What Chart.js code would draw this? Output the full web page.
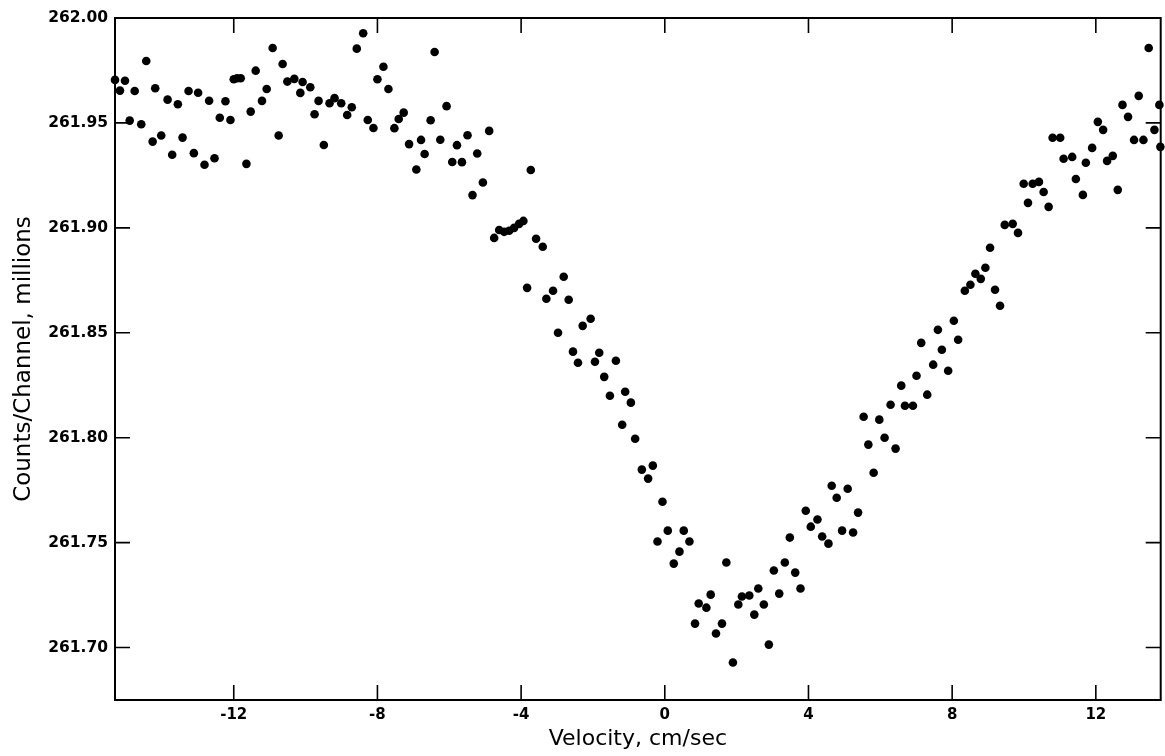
<!DOCTYPE html>
<html><head><meta charset="utf-8">
<script src="https://cdn.jsdelivr.net/npm/chart.js@4.4.0/dist/chart.umd.min.js"></script>
<style>html,body{margin:0;padding:0;background:#fff;}#wrap{width:1165px;height:756px;}</style>
</head><body><div id="wrap"><canvas id="c" width="1165" height="756"></canvas></div>
<script>
const velocity = [
-15.306,-15.167,-15.028,-14.897,-14.758,-14.575,-14.436,-14.258,-14.186,-14.019,
-13.842,-13.714,-13.556,-13.425,-13.258,-13.111,-12.992,-12.814,-12.686,-12.536,
-12.389,-12.231,-12.092,-12.000,-11.908,-11.806,-11.647,-11.528,-11.389,-11.214,
-11.083,-10.917,-10.750,-10.639,-10.508,-10.314,-10.147,-10.083,-9.869,-9.750,-9.639,
-9.492,-9.333,-9.194,-9.008,-8.842,-8.714,-8.575,-8.397,-8.269,-8.111,
-8.000,-7.833,-7.694,-7.528,-7.408,-7.269,-7.119,-6.917,-6.786,-6.686,
-6.519,-6.408,-6.250,-6.075,-5.917,-5.786,-5.647,-5.492,-5.353,-5.222,-5.064,-4.889,
-4.750,-4.611,-4.472,-4.333,-4.194,-4.056,-3.936,-3.833,-3.731,-3.583,
-3.397,-3.297,-3.111,-2.972,-2.814,-2.675,-2.556,-2.417,-2.286,-2.064,
-1.944,-1.825,-1.686,-1.528,-1.361,-1.186,-1.103,-0.944,-0.825,-0.639,
-0.464,-0.333,-0.203,-0.064,0.083,0.250,0.408,0.528,0.686,0.842,
0.944,1.158,1.278,1.425,1.592,1.714,1.897,2.047,2.147,2.353,
2.492,2.603,2.758,2.897,3.036,3.186,3.342,3.481,3.631,3.778,
3.925,4.064,4.250,4.381,4.556,4.647,4.786,4.936,5.092,5.242,
5.381,5.536,5.667,5.814,5.972,6.119,6.286,6.425,6.583,6.686,
6.908,7.008,7.139,7.306,7.472,7.603,7.714,7.889,8.047,8.167,
8.353,8.508,8.647,8.797,8.925,9.056,9.194,9.333,9.464,9.686,
9.833,9.992,10.111,10.242,10.417,10.547,10.686,10.797,11.008,11.103,
11.342,11.444,11.639,11.722,11.897,12.056,12.203,12.314,12.472,12.611,
12.742,12.897,13.064,13.194,13.325,13.472,13.631,13.769,13.797
];
const counts = [
261.9705,261.9654,261.9701,261.9511,261.9652,261.9494,261.9795,261.9411,261.9665,261.9440,
261.9611,261.9348,261.9589,261.9430,261.9652,261.9356,261.9644,261.9301,261.9606,261.9332,
261.9525,261.9603,261.9514,261.9708,261.9713,261.9713,261.9305,261.9554,261.9749,261.9605,
261.9662,261.9857,261.9440,261.9781,261.9697,261.9710,261.9643,261.9695,261.9670,261.9541,261.9605,
261.9395,261.9594,261.9618,261.9594,261.9538,261.9575,261.9854,261.9927,261.9514,261.9476,
261.9708,261.9768,261.9662,261.9475,261.9519,261.9549,261.9399,261.9278,261.9419,261.9352,
261.9513,261.9838,261.9420,261.9580,261.9314,261.9394,261.9313,261.9441,261.9156,261.9354,261.9216,261.9462,
261.8952,261.8990,261.8981,261.8986,261.9000,261.9019,261.9033,261.8714,261.9276,261.8948,
261.8910,261.8662,261.8700,261.8500,261.8767,261.8657,261.8410,261.8357,261.8533,261.8567,
261.8362,261.8405,261.8290,261.8200,261.8367,261.8062,261.8219,261.8167,261.7995,261.7848,
261.7805,261.7867,261.7505,261.7695,261.7557,261.7400,261.7457,261.7557,261.7505,261.7114,
261.7210,261.7190,261.7252,261.7067,261.7114,261.7405,261.6929,261.7205,261.7243,261.7248,
261.7157,261.7281,261.7205,261.7014,261.7367,261.7257,261.7405,261.7524,261.7357,261.7281,
261.7652,261.7576,261.7610,261.7529,261.7495,261.7771,261.7714,261.7557,261.7757,261.7548,
261.7643,261.8100,261.7967,261.7833,261.8086,261.8000,261.8157,261.7948,261.8248,261.8152,
261.8152,261.8295,261.8452,261.8205,261.8348,261.8514,261.8419,261.8319,261.8557,261.8467,
261.8700,261.8729,261.8781,261.8757,261.8810,261.8905,261.8705,261.8629,261.9014,261.9019,
261.8976,261.9210,261.9119,261.9210,261.9219,261.9171,261.9100,261.9429,261.9429,261.9329,
261.9338,261.9233,261.9157,261.9310,261.9381,261.9505,261.9467,261.9319,261.9343,261.9181,
261.9586,261.9529,261.9419,261.9629,261.9419,261.9857,261.9467,261.9586,261.9386
];
const xTickValues = [-12, -8, -4, 0, 4, 8, 12];
const yTickValues = [261.70, 261.75, 261.80, 261.85, 261.90, 261.95, 262.00];
const xTitle = 'Velocity, cm/sec';
const yTitle = 'Counts/Channel, millions';

const points = velocity.map((v, i) => ({x: v, y: counts[i]}));

const frameTicks = {
  id: 'frameTicks',
  beforeDatasetsDraw(chart) {
    const {ctx, chartArea: a, scales: {x, y}} = chart;
    const L = 15;
    ctx.save();
    ctx.strokeStyle = '#000';
    ctx.lineWidth = 2;
    ctx.strokeRect(a.left, a.top, a.right - a.left, a.bottom - a.top);
    ctx.lineWidth = 1.6;
    ctx.beginPath();
    x.ticks.forEach(t => {
      const px = x.getPixelForValue(t.value);
      ctx.moveTo(px, a.bottom); ctx.lineTo(px, a.bottom - L);
      ctx.moveTo(px, a.top); ctx.lineTo(px, a.top + L);
    });
    y.ticks.forEach(t => {
      const py = y.getPixelForValue(t.value);
      ctx.moveTo(a.left, py); ctx.lineTo(a.left + L, py);
      ctx.moveTo(a.right, py); ctx.lineTo(a.right - L, py);
    });
    ctx.stroke();
    ctx.restore();
  }
};

new Chart(document.getElementById('c'), {
  type: 'scatter',
  data: {datasets: [{
    data: points,
    backgroundColor: '#000',
    borderColor: '#000',
    pointRadius: 4.3,
    pointHoverRadius: 4.3,
    borderWidth: 0,
    clip: false
  }]},
  options: {
    responsive: false,
    animation: false,
    devicePixelRatio: 1,
    layout: {padding: {top: 18, right: 2, left: 0, bottom: 0}},
    plugins: {legend: {display: false}, tooltip: {enabled: false}},
    scales: {
      x: {
        type: 'linear', min: -15.306, max: 13.806,
        grid: {display: false, drawTicks: false},
        border: {display: false},
        afterBuildTicks: s => { s.ticks = xTickValues.map(v => ({value: v})); },
        afterFit: s => { s.height = 56; },
        ticks: {color: '#000', font: {family: "'DejaVu Sans', sans-serif", size: 15, weight: 'bold'},
          padding: 6, maxRotation: 0, callback: v => String(v)},
        title: {display: true, text: xTitle, color: '#000',
          font: {family: "'DejaVu Sans', sans-serif", size: 22}, padding: {top: 0, bottom: 4}}
      },
      y: {
        type: 'linear', min: 261.675, max: 262.0,
        grid: {display: false, drawTicks: false},
        border: {display: false},
        afterBuildTicks: s => { s.ticks = yTickValues.map(v => ({value: v})); },
        afterFit: s => { s.width = 115; },
        ticks: {color: '#000', font: {family: "'DejaVu Sans', sans-serif", size: 15.5, weight: 'bold'},
          padding: 7, callback: v => Number(v).toFixed(2)},
        title: {display: true, text: yTitle, color: '#000',
          font: {family: "'DejaVu Sans', sans-serif", size: 23}, padding: {top: 10, bottom: 0}}
      }
    }
  },
  plugins: [frameTicks]
});
</script>
</body></html>
